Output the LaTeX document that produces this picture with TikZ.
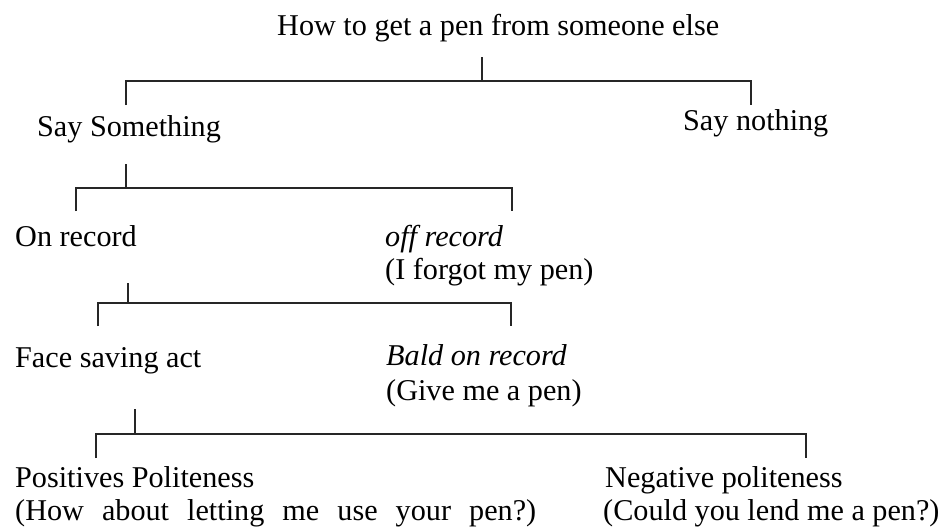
\documentclass[tikz,border=0pt]{standalone}
\usepackage{fontspec}
\setmainfont{Liberation Serif}
\begin{document}
\begin{tikzpicture}[x=1pt,y=-1pt,
  lbl/.style={anchor=base west,inner sep=0pt,font=\fontsize{30.2}{36}\selectfont},
  conn/.style={line width=1.4pt,draw=black!85}]
\useasboundingbox[fill=white] (0,0) rectangle (946,530);
% texts
\node[lbl] (root) at (277,35) {How to get a pen from someone else};
\node[lbl] (say) at (37,136) {Say Something};
\node[lbl] (nothing) at (683,130) {Say nothing};
\node[lbl] (on) at (15,246) {On record};
\node[lbl] (off) at (385,246) {\itshape off record};
\node[lbl] (offex) at (385,279) {(I forgot my pen)};
\node[lbl] (face) at (15,367) {Face saving act};
\node[lbl] (bald) at (386,365) {\itshape Bald on record};
\node[lbl] (baldex) at (386,400) {(Give me a pen)};
\node[lbl] (pos) at (15,487) {Positives Politeness};
\node[lbl] (posex) at (15,520) {\makebox[521pt][s]{(How about letting me use your pen?)}};
\node[lbl] (neg) at (605,487) {Negative politeness};
\node[lbl] (negex) at (603,520) {(Could you lend me a pen?)};
% level 1
\coordinate (s1a) at (482,57);
\coordinate (s1b) at (482,81);
\coordinate (l1a) at (126,105);
\coordinate (l1b) at (126,81);
\coordinate (l1c) at (751,81);
\coordinate (l1d) at (751,105);
\draw[conn] (s1a) -- (s1b);
\draw[conn] (l1a) -- (l1b) -- (l1c) -- (l1d);
% level 2
\coordinate (s2a) at (126,164);
\coordinate (s2b) at (126,188);
\coordinate (l2a) at (76,211);
\coordinate (l2b) at (76,188);
\coordinate (l2c) at (512,188);
\coordinate (l2d) at (512,211);
\draw[conn] (s2a) -- (s2b);
\draw[conn] (l2a) -- (l2b) -- (l2c) -- (l2d);
% level 3
\coordinate (s3a) at (128,283);
\coordinate (s3b) at (128,303);
\coordinate (l3a) at (98,326);
\coordinate (l3b) at (98,303);
\coordinate (l3c) at (511,303);
\coordinate (l3d) at (511,326);
\draw[conn] (s3a) -- (s3b);
\draw[conn] (l3a) -- (l3b) -- (l3c) -- (l3d);
% level 4
\coordinate (s4a) at (135,409);
\coordinate (s4b) at (135,434);
\coordinate (l4a) at (96,458);
\coordinate (l4b) at (96,434);
\coordinate (l4c) at (806,434);
\coordinate (l4d) at (806,458);
\draw[conn] (s4a) -- (s4b);
\draw[conn] (l4a) -- (l4b) -- (l4c) -- (l4d);
\end{tikzpicture}
\end{document}
